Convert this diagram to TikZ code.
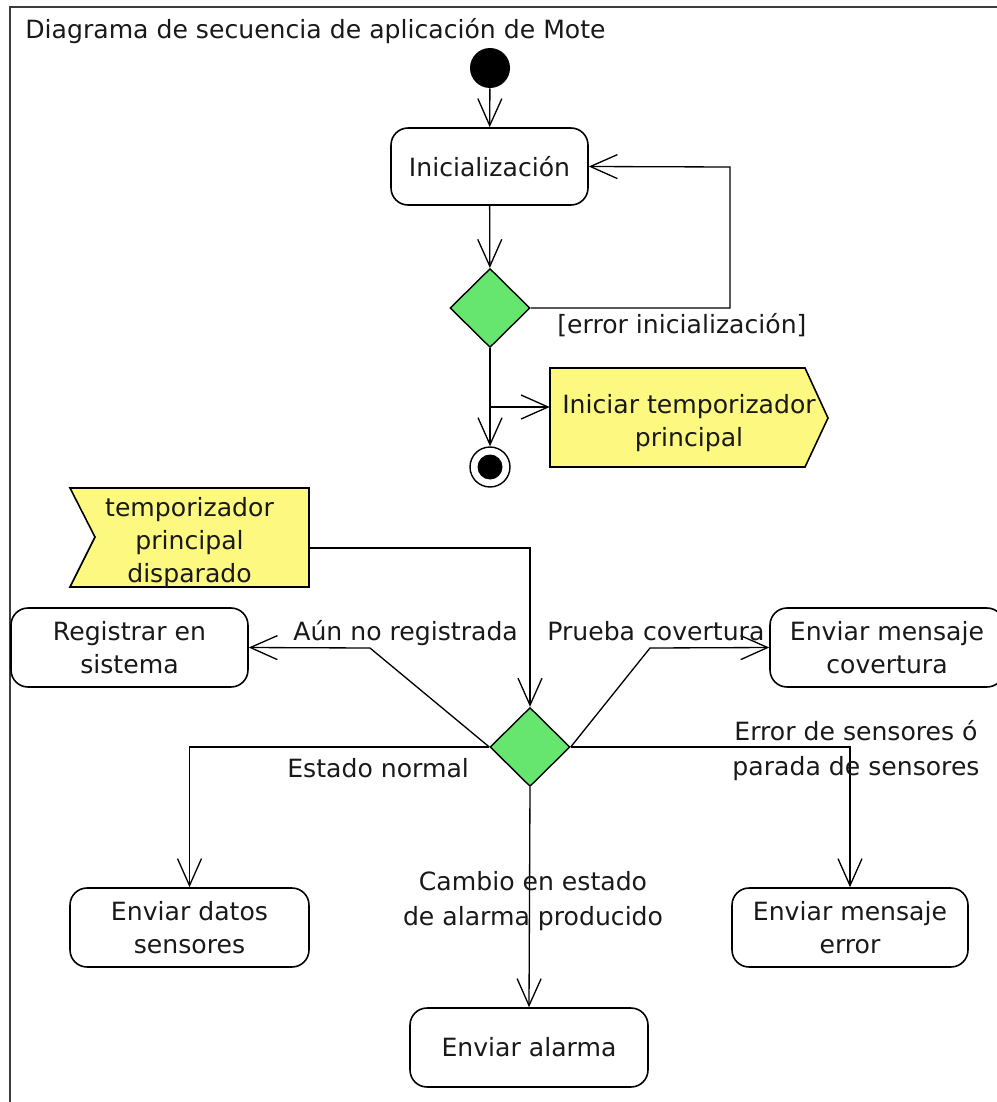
\documentclass[tikz,border=0pt]{standalone}
\usepackage{fontspec}
\setmainfont{DejaVu Sans}
\usetikzlibrary{arrows.meta,shapes.geometric,calc}
\definecolor{decgreen}{RGB}{102,230,110}
\definecolor{sigyellow}{RGB}{252,248,128}
\definecolor{framegray}{RGB}{60,60,60}
\definecolor{inkgray}{RGB}{25,25,25}
\begin{document}
\begin{tikzpicture}[x=0.02cm,y=-0.02cm,
  font=\fontsize{14.3pt}{19pt}\selectfont,
  every node/.append style={text=inkgray},
  action/.style={draw, rounded corners=0.34cm, fill=white, line width=0.9pt,
    align=center, inner sep=0pt},
  decision/.style={diamond, draw, fill=decgreen, line width=0.8pt,
    minimum width=1.6cm, minimum height=1.58cm, inner sep=0pt},
  flow/.style={line width=0.75pt,
    -{Straight Barb[length=0.54cm, width=0.48cm, line width=0.75pt]}},
  lbl/.style={inner sep=0pt},
  sigshape/.style={draw, fill=sigyellow, line width=0.9pt},
  sigtext/.style={align=center, inner sep=0pt},
]
\useasboundingbox (0,0) rectangle (997,1102);
\clip (0,0) rectangle (997,1102);

% frame
\draw[framegray, line width=1.1pt] (997,7) -- (10,7) -- (10,1102);
\node[lbl, anchor=base west] (title) at (25,38) {Diagrama de secuencia de aplicación de Mote};

% initialisation part
\node[circle, fill=black, minimum size=0.8cm, inner sep=0pt] (start) at (490,68) {};
\node[action, minimum width=3.94cm, minimum height=1.54cm] (init) at (489.5,166.5) {Inicialización};
\node[decision] (d1) at (490,308) {};
\node[circle, draw, fill=white, line width=0.8pt, minimum size=0.8cm, inner sep=0pt] (end) at (490,467) {};
\node[circle, fill=black, minimum size=0.5cm, inner sep=0pt] (endcore) at (end) {};

% send signal
\path[sigshape] (550,368) -- (805,368) -- (828,418) -- (805,467) -- (550,467) -- cycle;
\node[sigtext, minimum width=5.56cm] (send) at (689,423) {Iniciar temporizador\\principal};

\draw[flow] (start) -- (init);
\draw[flow] (init) -- (d1);
\coordinate (loop) at (730,167);
\draw[flow] (d1.east) -| (loop) -- (init.east);
\node[lbl, anchor=base west] (errinit) at (557,333) {[error inicialización]};
\draw[flow] (d1.south) -- (end.north);
\coordinate (split) at (490,407);
\draw[flow] (split) -- (split -| send.west);

% accept signal
\path[sigshape] (70,488) -- (309,488) -- (309,587) -- (70,587) -- (95,537) -- cycle;
\node[sigtext, minimum width=4.78cm] (recv) at (189.5,542.6) {temporizador\\principal\\disparado};

% main dispatch
\node[decision] (d2) at (530,747) {};
\node[action, minimum width=4.74cm, minimum height=1.58cm] (reg) at (129.5,647.5) {Registrar en\\sistema};
\node[action, minimum width=4.68cm, minimum height=1.58cm] (cov) at (887,647.5) {Enviar mensaje\\covertura};
\node[action, minimum width=4.78cm, minimum height=1.58cm] (datos) at (189.5,927.5) {Enviar datos\\sensores};
\node[action, minimum width=4.76cm, minimum height=1.58cm] (alarma) at (529,1047.5) {Enviar alarma};
\node[action, minimum width=4.72cm, minimum height=1.58cm] (err) at (850,927.5) {Enviar mensaje\\error};

\draw[flow] ([yshift=-0.108cm]recv.east) -| (d2.north);
\coordinate (toreg) at (370,648);
\draw[flow] (d2.west) -- (toreg) -- (reg.east);
\coordinate (tocov) at (650,648);
\draw[flow] (d2.east) -- (tocov) -- (cov.west);
\draw[flow] (d2.west) -| (datos.north);
\draw[flow] (d2.south) -- (alarma.north);
\draw[flow] (d2.east) -| (err.north);

% guard labels
\node[lbl, anchor=base west] (aun) at (293,640) {Aún no registrada};
\node[lbl, anchor=base west] (prueba) at (547,640) {Prueba covertura};
\node[lbl, anchor=base] (errsensA) at (856,740) {Error de sensores ó};
\node[lbl, anchor=base] (errsensB) at (856,775) {parada de sensores};
\node[lbl, anchor=base west] (normal) at (287,777) {Estado normal};
\node[lbl, anchor=base] (cambioA) at (533,890) {Cambio en estado};
\node[lbl, anchor=base] (cambioB) at (533,925) {de alarma producido};
\end{tikzpicture}
\end{document}
